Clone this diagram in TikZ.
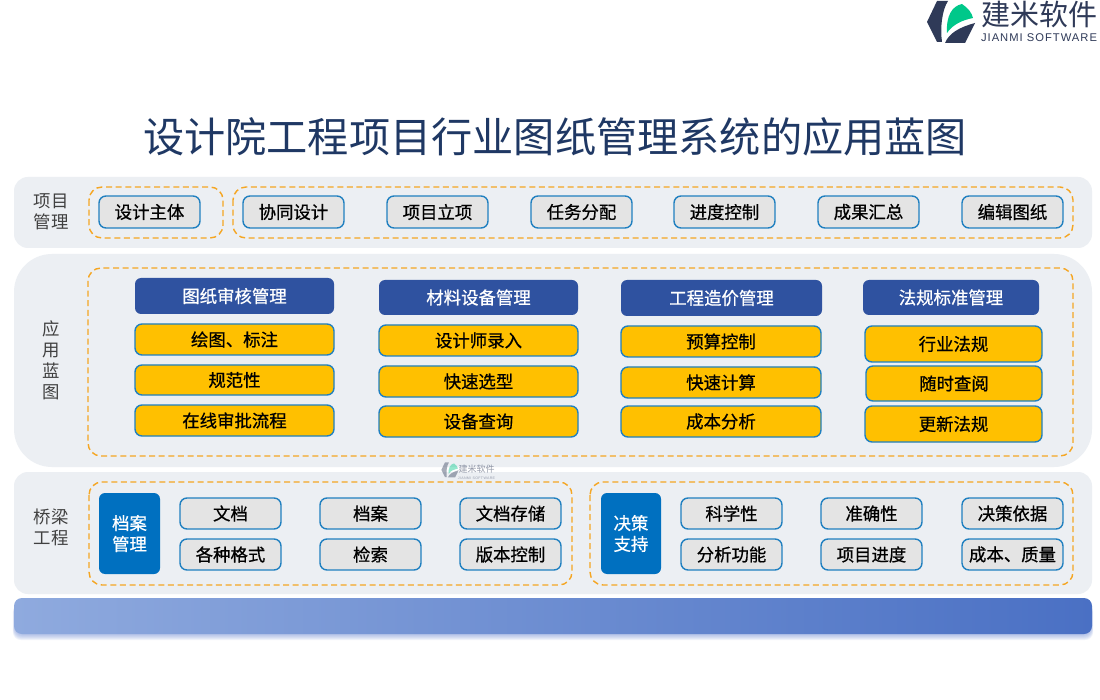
\documentclass[tikz,border=0pt]{standalone}
\usepackage{fontspec}
\setmainfont{Noto Sans CJK SC}
\newfontfamily\boldcjk[FakeBold=0.7]{Noto Sans CJK SC}
\newfontfamily\latinf[LetterSpace=9]{Liberation Sans}
\definecolor{panel}{HTML}{ECEFF3}
\definecolor{dashor}{HTML}{F5A623}
\definecolor{edgeb}{HTML}{2080C0}
\definecolor{cellg}{HTML}{E4E4E4}
\definecolor{ybox}{HTML}{FFC000}
\definecolor{navy}{HTML}{2F52A0}
\definecolor{bluebox}{HTML}{0070C0}
\definecolor{titlec}{HTML}{1F3864}
\definecolor{labelc}{HTML}{404040}
\definecolor{logod}{HTML}{2F3A58}
\definecolor{logog}{HTML}{00C88A}
\definecolor{barl}{HTML}{8FAADE}
\definecolor{barm}{HTML}{7898DA}
\definecolor{barr}{HTML}{4A70C4}
\definecolor{barshadow}{HTML}{6C8AD6}
\newcommand{\fs}[1]{\fontsize{#1}{#1}\selectfont}
\tikzset{
 x=1pt,y=-1pt,
 panelbox/.style={fill=panel,draw=none},
 dashbox/.style={draw=dashor,line width=1.4pt,dash pattern=on 6pt off 3.6pt,rounded corners=13pt},
 cell/.style={draw=edgeb,fill=cellg,line width=1.4pt,rounded corners=7pt,font=\boldcjk\fs{17.4},text=black,inner sep=0pt},
 ycell/.style={cell,fill=ybox},
 head/.style={fill=navy,rounded corners=6pt,font=\boldcjk\fs{17.4},text=white,inner sep=0pt},
 side/.style={fill=bluebox,rounded corners=6pt,font=\boldcjk\fs{17.4},text=white,inner sep=0pt,align=center},
 rowlabel/.style={font=\fs{17.4},text=labelc,align=center,inner sep=0pt},
}
% name, x0,y0,x1,y1, style, text
\newcommand{\bx}[7]{\node[#6,minimum width=#4pt-#2pt,minimum height=#5pt-#3pt,anchor=center] (#1) at ({(#2+#4)/2},{(#3+#5)/2}) {#7};}
\newcommand{\logomark}{%
 \fill[logod] (927,22) -- (937,1) -- (948,1) .. controls (942,10) and (940,28) .. (942,42) -- (937,42) -- cycle;
 \fill[logog] (947,33) .. controls (946,16) and (952,6) .. (962,4) .. controls (968,8) and (972,13) .. (973,18) .. controls (963,20) and (953,24) .. (947,33) -- cycle;
 \fill[logod] (975,23) -- (965,43) -- (945,43) .. controls (949,33) and (960,27) .. (975,23) -- cycle;
}
\begin{document}
\begin{tikzpicture}
\useasboundingbox (0,0) rectangle (1100,700);
\fill[white] (0,0) rectangle (1100,700);
% logo
\logomark
\node[font=\fs{29},text=logod,inner sep=0pt] (logotxt) at (1039.5,14) {建米软件};
\node[font=\latinf\fs{11.2},text=logod,inner sep=0pt] (logosub) at (1039,38) {JIANMI SOFTWARE};
% title
\node[font=\fs{41.2},text=titlec,inner sep=0pt] (title) at (555,137) {设计院工程项目行业图纸管理系统的应用蓝图};
% panels
\fill[panelbox,rounded corners=14pt] (14,177) rectangle (1092,248);
\fill[panelbox,rounded corners=38pt] (14,254) rectangle (1092,467);
\fill[panelbox,rounded corners=14pt] (14,472) rectangle (1092,594);
% bar shadow & bar
\foreach \i in {0,1,...,7}{\fill[barshadow,opacity=.1,rounded corners=8pt] (15-\i*.3,604) rectangle (1091+\i*.3,633+\i);}
\shade[rounded corners=8pt,shading angle=90,left color=barl,middle color=barm,right color=barr] (14,598) rectangle (1092,634);
% row labels
\node[rowlabel] (l1) at (51,211.5) {项目\\[3.5pt]管理};
\node[rowlabel] (l2) at (51,360.5) {应\\[3.5pt]用\\[3.5pt]蓝\\[3.5pt]图};
\node[rowlabel] (l3) at (51,527.5) {桥梁\\[3.5pt]工程};
% dashed groups
\draw[dashbox] (89,187) rectangle (223,238);
\draw[dashbox] (233,187) rectangle (1073,238);
\draw[dashbox] (88,268) rectangle (1073,456);
\draw[dashbox] (89,482) rectangle (572,585);
\draw[dashbox] (590,482) rectangle (1073,585);
% row 1
\bx{a0}{99}{196}{200}{228}{cell}{设计主体}
\bx{a1}{243}{196}{344}{228}{cell}{协同设计}
\bx{a2}{387}{196}{488}{228}{cell}{项目立项}
\bx{a3}{531}{196}{632}{228}{cell}{任务分配}
\bx{a4}{674}{196}{775}{228}{cell}{进度控制}
\bx{a5}{818}{196}{919}{228}{cell}{成果汇总}
\bx{a6}{962}{196}{1063}{228}{cell}{编辑图纸}
% headers
\bx{h1}{135}{278}{334}{314}{head}{图纸审核管理}
\bx{h2}{379}{280}{578}{315}{head}{材料设备管理}
\bx{h3}{621}{280}{822}{316}{head}{工程造价管理}
\bx{h4}{863}{280}{1039}{315}{head}{法规标准管理}
% col 1
\bx{c11}{135}{324}{334}{355}{ycell}{绘图、标注}
\bx{c12}{135}{365}{334}{395}{ycell}{规范性}
\bx{c13}{135}{405}{334}{436}{ycell}{在线审批流程}
% col 2
\bx{c21}{379}{325}{578}{356}{ycell}{设计师录入}
\bx{c22}{379}{366}{578}{397}{ycell}{快速选型}
\bx{c23}{379}{406}{578}{437}{ycell}{设备查询}
% col 3
\bx{c31}{621}{326}{821}{357}{ycell}{预算控制}
\bx{c32}{621}{367}{821}{398}{ycell}{快速计算}
\bx{c33}{621}{406}{821}{437}{ycell}{成本分析}
% col 4
\bx{c41}{865}{326}{1042}{362}{ycell}{行业法规}
\bx{c42}{866}{366}{1042}{401}{ycell}{随时查阅}
\bx{c43}{865}{406}{1042}{442}{ycell}{更新法规}
% bottom left
\bx{s1}{99}{493}{160}{574}{side}{档案\\[3.5pt]管理}
\bx{b1}{180}{498}{281}{529}{cell}{文档}
\bx{b2}{320}{498}{421}{529}{cell}{档案}
\bx{b3}{460}{498}{561}{529}{cell}{文档存储}
\bx{b4}{180}{539}{281}{570}{cell}{各种格式}
\bx{b5}{320}{539}{421}{570}{cell}{检索}
\bx{b6}{460}{539}{561}{570}{cell}{版本控制}
% bottom right
\bx{s2}{601}{493}{661}{574}{side}{决策\\[3.5pt]支持}
\bx{d1}{681}{498}{782}{529}{cell}{科学性}
\bx{d2}{821}{498}{922}{529}{cell}{准确性}
\bx{d3}{962}{498}{1063}{529}{cell}{决策依据}
\bx{d4}{681}{539}{782}{570}{cell}{分析功能}
\bx{d5}{821}{539}{922}{570}{cell}{项目进度}
\bx{d6}{962}{539}{1063}{570}{cell}{成本、质量}
% watermark
\begin{scope}[opacity=.42,shift={(441,462)},scale=.36,shift={(-926,0)}]
 \logomark
\end{scope}
\node[font=\fs{9},text=logod,opacity=.5,inner sep=0pt] (wm) at (476.5,469) {建米软件};
\node[font=\latinf\fs{3.6},text=logod,opacity=.45,inner sep=0pt] (wm2) at (476.5,478) {JIANMI SOFTWARE};
\end{tikzpicture}
\end{document}
